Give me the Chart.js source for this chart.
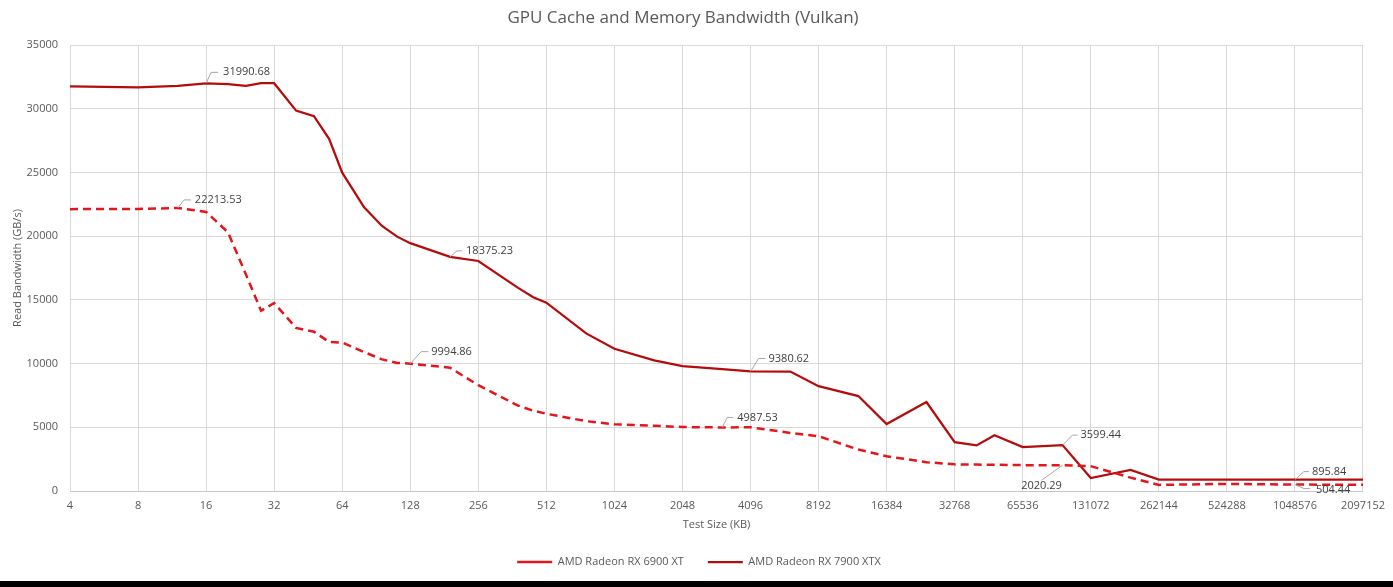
<!DOCTYPE html>
<html>
<head>
<meta charset="utf-8">
<title>GPU Cache and Memory Bandwidth (Vulkan)</title>
<script src="https://cdn.jsdelivr.net/npm/chart.js@4.4.0/dist/chart.umd.min.js"></script>
<style>
    html, body { margin: 0; padding: 0; background: #000; }
    #wrap { width: 1393px; height: 581px; background: #fff; }
</style>
</head>
<body>
<div id="wrap"><canvas id="chart" width="1393" height="581"></canvas></div>
<script>
// Test sizes (KB)
const sizes = [4, 8, 12, 16, 20, 24, 28, 32, 40, 48, 56, 64, 80, 96, 112, 128, 192, 256, 384, 448, 512,
    768, 1024, 1536, 2048, 3072, 4096, 6144, 8192, 12288, 16384, 24576, 32768, 40960, 49152, 65536,
    98304, 131072, 196608, 262144, 524288, 1048576, 2097152];

// Read bandwidth (GB/s)
const rx6900xt = [22120, 22130, 22213.53, 21900, 20300, 17000, 14150, 14750, 12800, 12500, 11700, 11650,
    10900, 10330, 10050, 9994.86, 9680, 8300, 6700, 6300, 6060, 5480, 5230, 5120, 5020, 4987.53, 5000,
    4560, 4300, 3250, 2730, 2260, 2090, 2070, 2060, 2030, 2020.29, 1950, 1050, 480, 560, 504.44, 490];

const rx7900xtx = [31760, 31680, 31800, 31990.68, 31930, 31800, 32010, 32000, 29850, 29420, 27640, 24980,
    22260, 20800, 19960, 19450, 18375.23, 18050, 15940, 15200, 14780, 12370, 11160, 10250, 9800, 9560,
    9380.62, 9370, 8230, 7450, 5250, 6980, 3830, 3580, 4380, 3450, 3599.44, 1020, 1650, 900, 900, 895.84, 890];

const xTicks = [4, 8, 16, 32, 64, 128, 256, 512, 1024, 2048, 4096, 8192, 16384, 32768, 65536,
    131072, 262144, 524288, 1048576, 2097152];

const seriesNames = ['AMD Radeon RX 6900 XT', 'AMD Radeon RX 7900 XTX'];

// Callout labels: dataset, size, leader path and text offset from the point
const callouts = [
    { ds: 1, size: 16, path: [[5, -11], [12, -11]], tx: 17, ty: -11, align: 'left' },
    { ds: 0, size: 12, path: [[6, -8], [13, -8]], tx: 17, ty: -8, align: 'left' },
    { ds: 1, size: 192, path: [[7, -6], [12, -6]], tx: 16, ty: -6, align: 'left' },
    { ds: 0, size: 128, path: [[11, -12], [18, -12]], tx: 21, ty: -12, align: 'left' },
    { ds: 1, size: 4096, path: [[8, -13], [15, -13]], tx: 18, ty: -13, align: 'left' },
    { ds: 0, size: 3072, path: [[5, -10], [11, -10]], tx: 15, ty: -10, align: 'left' },
    { ds: 1, size: 98304, path: [[10, -10], [15, -10]], tx: 18, ty: -10, align: 'left' },
    { ds: 0, size: 98304, path: [[-21, 15]], tx: -21, ty: 21, align: 'center' },
    { ds: 1, size: 1048576, path: [[9, -8], [14, -8]], tx: 17, ty: -8, align: 'left' },
    { ds: 0, size: 1048576, path: [[9, 4], [15, 4]], tx: 21, ty: 5, align: 'left' }
];

const calloutPlugin = {
    id: 'callouts',
    afterLayout(chart) {
        // centre the legend on the whole canvas, not just the padded box
        chart.legend.right += 32;
    },
    afterDatasetsDraw(chart) {
        const ctx = chart.ctx;
        ctx.save();
        ctx.font = "11px 'Open Sans', sans-serif";
        ctx.textBaseline = 'middle';
        callouts.forEach(c => {
            const idx = sizes.indexOf(c.size);
            const pt = chart.getDatasetMeta(c.ds).data[idx];
            if (!pt) return;
            const value = chart.data.datasets[c.ds].data[idx].y;
            ctx.strokeStyle = '#a6a6a6';
            ctx.lineWidth = 1;
            ctx.beginPath();
            ctx.moveTo(pt.x, pt.y);
            c.path.forEach(p => ctx.lineTo(pt.x + p[0], pt.y + p[1]));
            ctx.stroke();
            ctx.fillStyle = '#404040';
            ctx.textAlign = c.align;
            ctx.fillText(value.toFixed(2), pt.x + c.tx, pt.y + c.ty);
        });
        ctx.restore();
    }
};

Chart.defaults.font.family = "'Open Sans', sans-serif";
Chart.defaults.color = '#595959';

const toPoints = values => sizes.map((s, i) => ({ x: s, y: values[i] }));

new Chart(document.getElementById('chart'), {
    type: 'line',
    data: {
        datasets: [
            {
                label: seriesNames[0],
                data: toPoints(rx6900xt),
                borderColor: '#e3161c',
                backgroundColor: '#e3161c',
                borderWidth: 2.5,
                borderDash: [8, 5],
                pointRadius: 0,
                tension: 0
            },
            {
                label: seriesNames[1],
                data: toPoints(rx7900xtx),
                borderColor: '#b40c0c',
                backgroundColor: '#b40c0c',
                borderWidth: 2.25,
                pointRadius: 0,
                tension: 0
            }
        ]
    },
    options: {
        responsive: false,
        animation: false,
        layout: { padding: { left: 0, right: 27, top: 0, bottom: 3.5 } },
        plugins: {
            title: {
                display: true,
                text: 'GPU Cache and Memory Bandwidth (Vulkan)',
                color: '#595959',
                font: { size: 17, weight: 'normal' },
                padding: { top: 8, bottom: 16.6 }
            },
            legend: {
                position: 'bottom',
                labels: {
                    usePointStyle: true,
                    pointStyle: 'line',
                    pointStyleWidth: 35,
                    color: '#595959',
                    font: { size: 11 },
                    padding: 24
                }
            },
            tooltip: { enabled: false }
        },
        scales: {
            x: {
                type: 'logarithmic',
                min: 4,
                max: 2097152,
                afterBuildTicks: scale => {
                    scale.ticks = xTicks.map(v => ({ value: v }));
                },
                afterFit: scale => { scale.height = 41.5; },
                ticks: {
                    autoSkip: false,
                    maxRotation: 0,
                    padding: 8,
                    color: '#595959',
                    font: { size: 11 },
                    callback: v => String(v)
                },
                grid: { color: '#d9d9d9', drawTicks: false },
                border: { color: '#c8c8c8' },
                title: {
                    display: true,
                    text: 'Test Size (KB)',
                    color: '#595959',
                    font: { size: 11 },
                    padding: { top: 0, bottom: 1 }
                }
            },
            y: {
                min: 0,
                max: 35000,
                afterFit: scale => { scale.width = 70; },
                ticks: {
                    stepSize: 5000,
                    padding: 12,
                    color: '#595959',
                    font: { size: 11 },
                    callback: v => String(v)
                },
                grid: { color: '#d9d9d9', drawTicks: false },
                border: { display: false },
                title: {
                    display: true,
                    text: 'Read Bandwidth (GB/s)',
                    color: '#595959',
                    font: { size: 11 },
                    padding: { top: 11, bottom: 0 }
                }
            }
        }
    },
    plugins: [calloutPlugin]
});
</script>
</body>
</html>
